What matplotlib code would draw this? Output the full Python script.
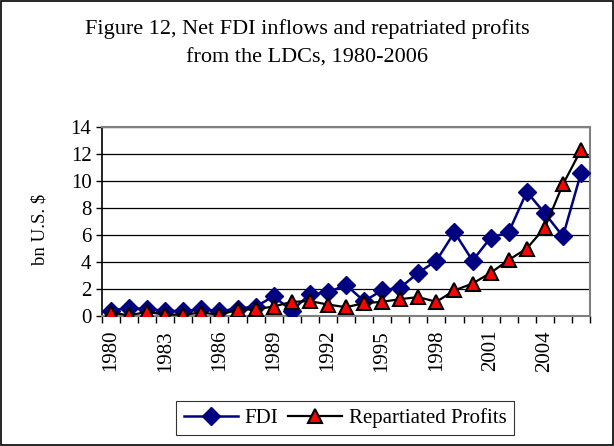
import numpy as np
from matplotlib import pyplot as plt
from matplotlib.patches import Rectangle

years = list(range(1980, 2007))
fdi = [0.4, 0.6, 0.5, 0.4, 0.35, 0.5, 0.35, 0.55, 0.7, 1.45, 0.4, 1.6,
       1.75, 2.3, 1.1, 1.9, 2.1, 3.2, 4.1, 6.2, 4.1, 5.8, 6.2, 9.2,
       7.6, 5.9, 10.6]
profits = [0.25, 0.05, 0.3, 0.1, 0.1, 0.25, 0.1, 0.45, 0.5, 0.7, 1.05, 1.1,
           0.85, 0.65, 0.95, 1.05, 1.25, 1.4, 1.05, 1.9, 2.4, 3.2, 4.15, 5.0,
           6.55, 9.75, 12.3]
label_years = years[::3]

plt.rcParams["font.family"] = ["Liberation Serif", "DejaVu Serif"]

fig = plt.figure(figsize=(6.14, 4.46), dpi=100)
ax = fig.add_axes([0.166, 0.2915, 0.795, 0.4237])

x = np.arange(len(years))
ax.plot(x, fdi, color="#000080", lw=1.8, marker="D", markersize=9,
        markerfacecolor="#000080", markeredgecolor="#000080", label="FDI",
        zorder=3)
ax.plot(x, profits, color="black", lw=1.6, marker="^", markersize=9.5,
        markerfacecolor="red", markeredgecolor="black", markeredgewidth=1.5,
        label="Repartiated Profits", zorder=4)

ax.set_xlim(-0.5, len(years) - 0.5)
ax.set_ylim(0, 14)
ax.set_yticks(range(0, 15, 2))
ax.yaxis.grid(True, color="black", lw=0.9)
ax.set_axisbelow(True)

ax.set_xticks([years.index(y) for y in label_years])
ax.set_xticklabels([str(y) for y in label_years], rotation=90, fontsize=15)
ax.set_xticks(np.arange(-0.5, len(years), 1), minor=True)
ax.tick_params(axis="x", which="major", length=0, pad=10)
ax.tick_params(axis="x", which="minor", length=5, direction="out", width=1)
ax.tick_params(axis="y", labelsize=15, length=4, direction="out", width=1)

for s in ["top", "right", "bottom"]:
    ax.spines[s].set_color("#808080")
    ax.spines[s].set_linewidth(1.5)
ax.spines["left"].set_color("black")
ax.spines["left"].set_linewidth(1.2)

ax.set_ylabel("bn U.S. $", fontsize=13.5)
ax.yaxis.set_label_coords(-0.11, 0.46)

fig.text(0.5, 0.935, "Figure 12, Net FDI inflows and repatriated profits",
         ha="center", va="center", fontsize=16)
fig.text(0.5, 0.87, "from the LDCs, 1980-2006", ha="center", va="center",
         fontsize=16)

leg = fig.legend(loc="center", bbox_to_anchor=(0.562, 0.063), ncol=2,
                 fontsize=15, frameon=True, fancybox=False, edgecolor="black",
                 handlelength=2.6, columnspacing=0.5, handletextpad=0.3,
                 borderpad=0.35)
leg.get_frame().set_linewidth(0.8)

fig.patches.append(Rectangle((0.002, 0.002), 0.996, 0.996,
                             transform=fig.transFigure, fill=False,
                             edgecolor="black", lw=1.2))

fig.savefig("out.png", dpi=100)
